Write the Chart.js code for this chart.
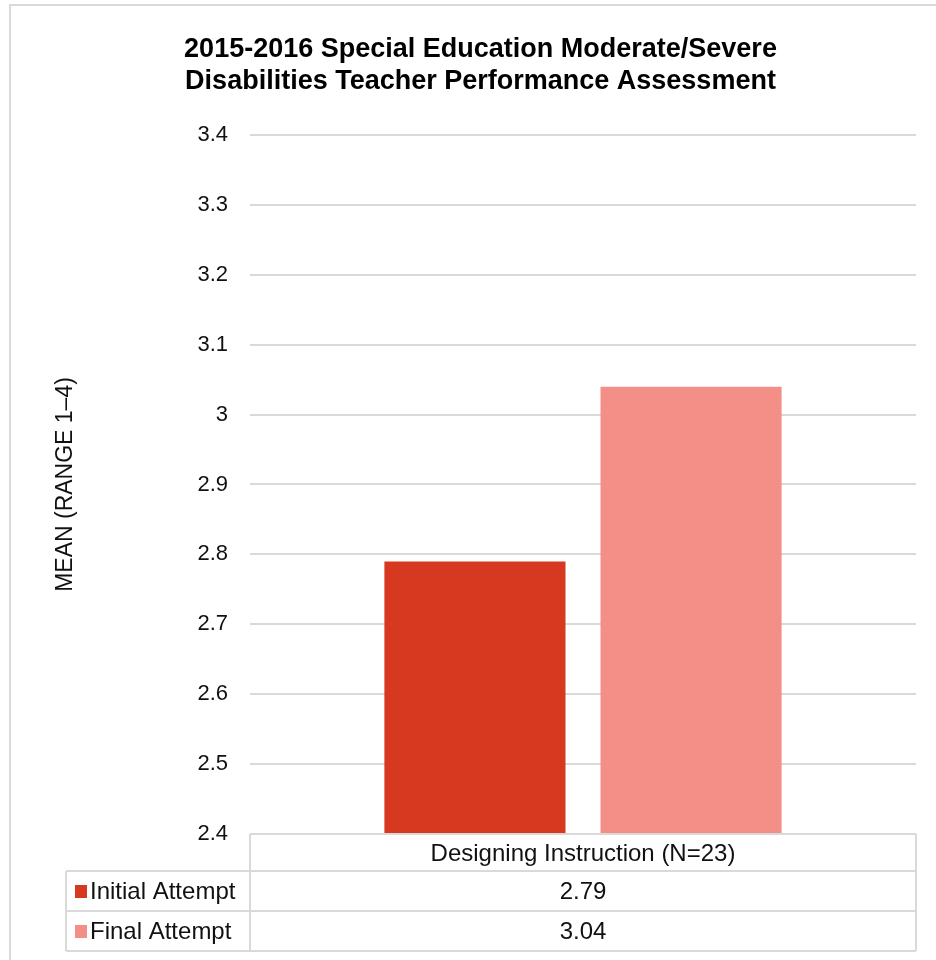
<!DOCTYPE html>
<html>
<head>
<meta charset="utf-8">
<title>Teacher Performance Assessment</title>
<script src="https://cdn.jsdelivr.net/npm/chart.js@4/dist/chart.umd.min.js"></script>
<style>
  html, body { margin: 0; padding: 0; background: #fff; overflow: hidden; }
  canvas { display: block; }
</style>
</head>
<body>
<canvas id="tpaChart" width="936" height="960"></canvas>
<script>
// ── Data ────────────────────────────────────────────────
const titleLines   = ["2015-2016 Special Education Moderate/Severe", "Disabilities Teacher Performance Assessment"];
const categories   = ["Designing Instruction (N=23)"];
const seriesNames  = ["Initial Attempt", "Final Attempt"];
const initialMeans = [2.79];
const finalMeans   = [3.04];
const yAxisLabel   = "MEAN (RANGE 1–4)";

// ── Styles ──────────────────────────────────────────────
const FONT       = "'Liberation Sans', Arial, Helvetica, sans-serif";
const GRID_COLOR = "#d9d9d9";
const TEXT_COLOR = "#111111";
const COLORS     = ["#d6391f", "#f48f87"];

// ── Page frame + data table under the plot ──────────────
const frameAndTable = {
  id: "frameAndTable",
  beforeDraw(chart) {
    const ctx = chart.ctx;
    ctx.save();
    ctx.fillStyle = "#fff";
    ctx.fillRect(0, 0, chart.width, chart.height);
    ctx.strokeStyle = GRID_COLOR;
    ctx.lineWidth = 2;
    ctx.beginPath();
    ctx.moveTo(10, chart.height);
    ctx.lineTo(10, 5);
    ctx.lineTo(chart.width, 5);
    ctx.stroke();
    ctx.restore();
  },
  afterDraw(chart) {
    const ctx  = chart.ctx;
    const area = chart.chartArea;
    const xs   = chart.scales.x;
    const left = 66;
    const headH = 37, rowH = 40;
    const top  = area.bottom;
    const r1   = top + headH;
    const bottom = r1 + rowH * seriesNames.length;

    ctx.save();
    ctx.strokeStyle = GRID_COLOR;
    ctx.lineWidth = 2;
    ctx.beginPath();
    // header row spans only the data column
    ctx.moveTo(area.left, top);  ctx.lineTo(area.right, top);
    ctx.moveTo(area.left, top);  ctx.lineTo(area.left, bottom);
    ctx.moveTo(area.right, top); ctx.lineTo(area.right, bottom);
    ctx.moveTo(left, r1);        ctx.lineTo(left, bottom);
    for (let i = 0; i <= seriesNames.length; i++) {
      const y = r1 + rowH * i;
      ctx.moveTo(left, y); ctx.lineTo(area.right, y);
    }
    ctx.stroke();

    ctx.fillStyle = TEXT_COLOR;
    ctx.font = "24px " + FONT;
    ctx.textBaseline = "middle";
    ctx.textAlign = "center";
    categories.forEach((c, i) => {
      ctx.fillText(c, xs.getPixelForValue(i), top + headH / 2 + 2);
    });

    const values = [initialMeans, finalMeans];
    seriesNames.forEach((name, s) => {
      const cy = r1 + rowH * s + rowH / 2 + 1;
      ctx.fillStyle = COLORS[s];
      ctx.fillRect(75, cy - 7, 12, 13);
      ctx.fillStyle = TEXT_COLOR;
      ctx.textAlign = "left";
      ctx.fillText(name, 90, cy);
      ctx.textAlign = "center";
      values[s].forEach((v, i) => {
        ctx.fillText(v.toFixed(2), xs.getPixelForValue(i), cy);
      });
    });
    ctx.restore();
  }
};

// ── Chart ───────────────────────────────────────────────
const ctx = document.getElementById("tpaChart").getContext("2d");

new Chart(ctx, {
  type: "bar",
  data: {
    labels: categories,
    datasets: [
      { label: seriesNames[0], data: initialMeans, backgroundColor: COLORS[0] },
      { label: seriesNames[1], data: finalMeans,   backgroundColor: COLORS[1] }
    ]
  },
  options: {
    responsive: false,
    animation: false,
    categoryPercentage: 0.649,
    barPercentage: 0.838,
    layout: { padding: { left: 45, right: 20, top: 0, bottom: 126 } },
    scales: {
      x: { display: false },
      y: {
        min: 2.4,
        max: 3.4,
        afterFit: (scale) => { scale.width = 205; },
        ticks: {
          stepSize: 0.1,
          padding: 22,
          color: TEXT_COLOR,
          font: { family: FONT, size: 22 },
          callback: (v) => String(parseFloat(Number(v).toFixed(1)))
        },
        grid: { color: GRID_COLOR, lineWidth: 2, drawTicks: false },
        border: { display: false },
        title: {
          display: true,
          text: yAxisLabel,
          color: TEXT_COLOR,
          padding: { top: 7, bottom: 0 },
          font: { family: FONT, size: 23 }
        }
      }
    },
    plugins: {
      legend: { display: false },
      tooltip: { enabled: false },
      title: {
        display: true,
        text: titleLines,
        color: "#000",
        padding: { top: 34, bottom: 37 },
        font: { family: FONT, size: 27, weight: "bold", lineHeight: 1.185 }
      }
    }
  },
  plugins: [frameAndTable]
});
</script>
</body>
</html>
